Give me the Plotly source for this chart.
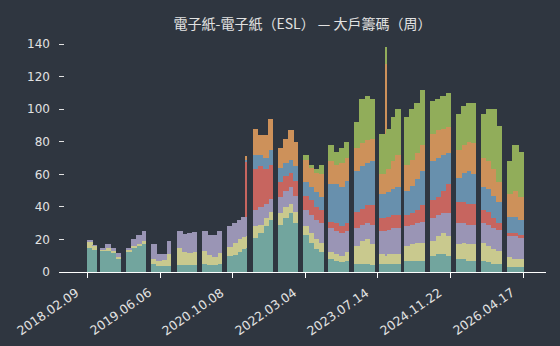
import plotly.graph_objects as go

# ---- data ----
tick_index = [0, 70, 140, 210, 280, 350, 420]
tick_labels = ["2018.02.09", "2019.06.06", "2020.10.08", "2022.03.04",
               "2023.07.14", "2024.11.22", "2026.04.17"]

# first week index of each sampled bar and the number of weeks it covers
bar_start = [0, 5,
             13, 18, 23, 28,
             38, 43, 48, 53,
             62, 67, 72, 77,
             87, 92, 97, 102,
             111, 116, 121, 126,
             135, 140, 145, 149, 153,
             160, 165, 170, 175,
             184, 189, 194, 199,
             209, 214, 219, 224,
             233, 238, 243, 248,
             258, 263, 268, 273,
             282, 288, 289, 293, 297,
             306, 311, 316, 321,
             331, 336, 341, 346,
             356, 361, 366, 371,
             380, 385, 390, 395,
             405, 410, 416]
bar_weeks = [5, 4,
             5, 5, 5, 4,
             5, 5, 5, 4,
             5, 5, 5, 4,
             5, 5, 5, 4,
             5, 5, 5, 4,
             5, 5, 4, 4, 1,
             5, 5, 5, 4,
             5, 5, 5, 4,
             5, 5, 5, 4,
             5, 5, 5, 4,
             5, 5, 5, 4,
             6, 1, 4, 4, 5,
             5, 5, 5, 5,
             5, 5, 5, 5,
             5, 5, 5, 4,
             5, 5, 5, 5,
             5, 6, 5]

s1 = [14.5, 13.5,
      13.5, 13.5, 12, 8.5,
      12.5, 14.5, 16, 17,
      5, 3.5, 3.5, 3.5,
      4, 4, 4, 4,
      5, 4.5, 4, 5,
      10, 10.5, 12, 14, 15,
      21, 24, 28, 32,
      29, 33, 36, 30,
      23, 18, 14, 12,
      8, 7, 6, 7,
      5, 5, 5, 4,
      5, 5, 5, 5, 5,
      7, 7, 7, 7,
      10, 11, 11, 10,
      8, 8, 7, 7,
      7, 6, 5, 5,
      3, 3, 3]
s2 = [4.5, 2.5,
      0.5, 1, 1, 1,
      1, 1.5, 1.5, 2,
      3, 3, 4, 7.5,
      11, 8, 7.5, 8.5,
      8, 6, 5.5, 6.5,
      5.5, 7.5, 8, 7.5, 7,
      7, 5, 5, 5,
      7, 7, 6, 7,
      5, 6, 6, 6,
      4, 4, 4, 5,
      11, 14, 15, 13,
      6, 5, 6, 6, 6,
      9, 10, 11, 11,
      9, 11, 13, 12,
      9, 10, 10, 10,
      11, 10, 9, 8,
      6, 5, 5]
s3 = [0.5, 0.5,
      1, 2.5, 2, 2,
      1.5, 4, 5.5, 6,
      9, 4.5, 3.5, 8,
      10, 11.5, 12.5, 12,
      12, 12, 13.5, 14,
      12.5, 12, 12, 12.5, 12,
      10, 11, 9, 8,
      10, 10, 10, 10,
      10, 11, 12, 12,
      15, 14, 14, 13,
      11, 10, 10, 12,
      14, 15, 15, 16, 16,
      12, 12, 12, 13,
      14, 13, 12, 14,
      13, 12, 12, 12,
      12, 13, 13, 13,
      13, 14, 13]
s4 = [0, 0,
      0, 0, 0, 0,
      0, 0, 0, 0,
      0, 0, 0, 0,
      0, 0, 0, 0,
      0, 0, 0, 0,
      0, 0, 0, 0, 34,
      25, 25, 21, 21,
      9, 9, 9, 9,
      9, 9, 8, 8,
      4, 5, 4, 5,
      10, 10, 11, 12,
      8, 35, 8, 8, 8,
      7, 7, 8, 10,
      11, 11, 14, 18,
      13, 13, 13, 13,
      8, 8, 6, 4,
      2, 2, 2]
s5 = [0, 0,
      0, 0, 0, 0,
      0, 0, 0, 0,
      0, 0, 0, 0,
      0, 0, 0, 0,
      0, 0, 0, 0,
      0, 0, 0, 0, 1,
      9, 7, 7, 9,
      9, 8, 8, 9,
      8, 8, 9, 8,
      23, 24, 24, 26,
      25, 26, 26, 27,
      15, 10, 15, 16, 17,
      15, 17, 19, 21,
      24, 24, 22, 19,
      15, 18, 20, 18,
      14, 14, 14, 13,
      10, 10, 9]
s6 = [0, 0,
      0, 0, 0, 0,
      0, 0, 0, 0,
      0, 0, 0, 0,
      0, 0, 0, 0,
      0, 0, 0, 0,
      0, 0, 0, 0, 2,
      16, 12, 14, 19,
      12, 15, 18, 15,
      14, 12, 12, 14,
      14, 12, 15, 14,
      14, 14, 14, 14,
      12, 58, 14, 17, 20,
      16, 16, 16, 16,
      17, 17, 16, 16,
      17, 17, 18, 19,
      18, 17, 16, 12,
      14, 16, 14]
s7 = [0, 0,
      0, 0, 0, 0,
      0, 0, 0, 0,
      0, 0, 0, 0,
      0, 0, 0, 0,
      0, 0, 0, 0,
      0, 0, 0, 0, 0,
      0, 0, 0, 0,
      0, 0, 0, 0,
      3, 2, 2, 6,
      10, 8, 9, 10,
      16, 27, 27, 24,
      25, 10, 25, 27, 28,
      29, 31, 31, 34,
      20, 19, 20, 21,
      22, 24, 24, 25,
      27, 32, 37, 35,
      20, 28, 28]

series = [s1, s2, s3, s4, s5, s6, s7]
colors = ["#72a59e", "#c9c98e", "#9a95b5", "#c7655f",
          "#6890ad", "#cd915a", "#91ad5a"]

bg = "#2f3640"
txt = "#e2e2e2"

x_center = [s + (w - 1) / 2 for s, w in zip(bar_start, bar_weeks)]
# slight overlap so neighbouring bars of one segment join without seams
x_width = [w + 0.6 for w in bar_weeks]

fig = go.Figure()
for vals, col in zip(series, colors):
    fig.add_trace(go.Bar(
        x=x_center, y=vals, width=x_width,
        marker=dict(color=col, line=dict(width=0)),
        hoverinfo="skip",
    ))

# rotated date labels under the ticks
for tv, tl in zip(tick_index, tick_labels):
    fig.add_annotation(
        x=tv, xref="x", y=0, yref="paper",
        text=tl, showarrow=False, textangle=-35,
        xanchor="right", yanchor="top", xshift=-3, yshift=-10,
        font=dict(family="DejaVu Sans", size=12.5, color=txt),
    )

fig.update_layout(
    width=560, height=346,
    margin=dict(l=59, r=14, t=36, b=74),
    paper_bgcolor=bg, plot_bgcolor=bg,
    barmode="stack", bargap=0, showlegend=False,
    font=dict(family="DejaVu Sans, Noto Sans CJK TC", color=txt, size=12),
    title=dict(
        text="電子紙-電子紙（ESL） — 大戶籌碼（周）",
        font=dict(family="Noto Sans CJK TC, DejaVu Sans", size=14, color=txt),
        x=0.5, xref="paper", xanchor="center",
        y=1 - 24 / 346, yref="container", yanchor="middle",
    ),
    xaxis=dict(
        range=[-27.5, 442.1], showgrid=False, zeroline=False,
        showline=True, linecolor="#ffffff", linewidth=1,
        ticks="outside", ticklen=5, tickcolor="#ffffff", tickwidth=1,
        tickmode="array", tickvals=tick_index, ticktext=tick_labels,
        showticklabels=False,
    ),
    yaxis=dict(
        range=[0, 145], showgrid=False, zeroline=False, showline=False,
        ticks="inside", ticklen=5, tickcolor=txt, tickwidth=1,
        tickmode="array", tickvals=[0, 20, 40, 60, 80, 100, 120, 140],
        tickfont=dict(size=12, color=txt), ticklabelstandoff=8,
    ),
)

fig.write_html("out.html")
